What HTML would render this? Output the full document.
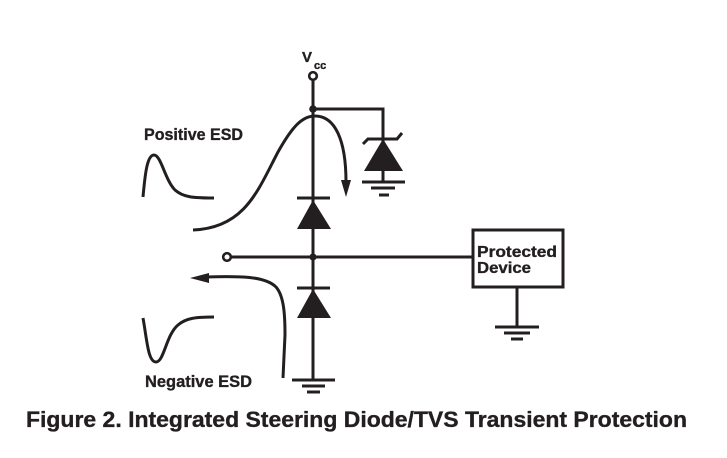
<!DOCTYPE html>
<html><head><meta charset="utf-8"><style>
html,body{margin:0;padding:0;background:#fff;}
svg{display:block;}
text{font-family:"Liberation Sans",sans-serif;font-weight:bold;fill:#231f20;stroke:#231f20;stroke-width:0.35;}
</style></head><body>
<svg width="727" height="458" viewBox="0 0 727 458" xmlns="http://www.w3.org/2000/svg">
<g stroke="#231f20" stroke-width="3" fill="none" stroke-linecap="butt">
  <circle cx="313" cy="76" r="3.8" stroke-width="2.6" fill="#fff"/>
  <line x1="313" y1="80" x2="313" y2="380"/>
  <polyline points="313,109 383,109 383,182"/>
  <polyline points="363,144 368,139 397,139 402,133"/>
  <line x1="362" y1="182" x2="405" y2="182"/>
  <line x1="371" y1="188" x2="395" y2="188"/>
  <line x1="379" y1="195" x2="389" y2="195"/>
  <line x1="297" y1="198" x2="330" y2="198"/>
  <line x1="297" y1="288" x2="330" y2="288"/>
  <circle cx="227" cy="257" r="3.8" stroke-width="2.6" fill="#fff"/>
  <line x1="231" y1="257" x2="473" y2="257"/>
  <line x1="292" y1="380" x2="335" y2="380"/>
  <line x1="302" y1="386" x2="325" y2="386"/>
  <line x1="307" y1="392" x2="320" y2="392"/>
  <rect x="473" y="230" width="90" height="57"/>
  <line x1="517" y1="288" x2="517" y2="327"/>
  <line x1="495" y1="327" x2="539" y2="327"/>
  <line x1="504" y1="333" x2="530" y2="333"/>
  <line x1="511" y1="339" x2="523" y2="339"/>
  <path d="M193,230 C245,228 258,190 278,152 C292,127 302,116 315,116 C335,116 346,140 346,182"/>
  <path d="M205,277 C240,276 265,276 276,287 C284,296 285,315 285,335 L283,378"/>
  <path d="M143,197 C145,175 147,155 154,155 C161,155 165,180 175,190 C183,197 192,198 214,198"/>
  <path d="M143,318 C147,340 148,362 156,362 C164,362 166,335 178,325 C186,318 196,317 214,317"/>
</g>
<g fill="#231f20">
  <circle cx="313" cy="109" r="3.8"/>
  <circle cx="313" cy="257" r="3.6"/>
  <polygon points="383,139 364,171 403,171"/>
  <polygon points="313,200 297,229 331,229"/>
  <polygon points="313,289 297,318 331,318"/>
  <polygon points="341,180 351,180 346,197"/>
  <polygon points="190,278 209,273 209,283"/>
</g>
<text x="302" y="62" font-size="15">V</text>
<text x="314" y="69" font-size="11">cc</text>
<text x="144" y="140" font-size="16.5" textLength="99" lengthAdjust="spacingAndGlyphs">Positive ESD</text>
<text x="145" y="387" font-size="16.5" textLength="107" lengthAdjust="spacingAndGlyphs">Negative ESD</text>
<text x="477" y="257" font-size="16" textLength="80" lengthAdjust="spacingAndGlyphs">Protected</text>
<text x="477" y="273" font-size="16" textLength="54" lengthAdjust="spacingAndGlyphs">Device</text>
<text x="26" y="427" font-size="22" textLength="661" lengthAdjust="spacingAndGlyphs">Figure 2. Integrated Steering Diode/TVS Transient Protection</text>
</svg>
</body></html>
